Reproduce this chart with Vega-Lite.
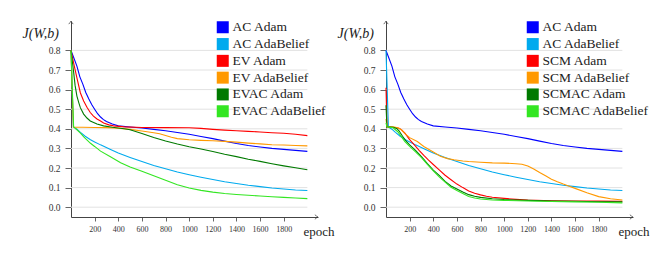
{
"$schema":"https://vega.github.io/schema/vega-lite/v6.json",
"padding":{"left":22,"top":19,"right":5,"bottom":5},
"config":{"font":"Liberation Serif, DejaVu Serif, serif","view":{"stroke":null},
"axis":{"labelFont":"Liberation Serif, DejaVu Serif, serif","titleFont":"Liberation Serif, DejaVu Serif, serif","domainColor":"#444","tickColor":"#666","labelColor":"#333","titleColor":"#222","titleFontWeight":"normal","grid":false,"labelOverlap":false},
"axisX":{"format":"d","labelOverlap":false,"tickSize":4,"labelFontSize":8,"labelPadding":4,"titleFontSize":13,"titleX":232,"titleY":18,"titleAlign":"left","titleBaseline":"alphabetic"},
"axisY":{"format":".1f","labelOverlap":false,"tickSize":6,"labelFontSize":9.5,"labelPadding":5,"titleAngle":0,"titleFontSize":14,"titleFontStyle":"italic","titleX":-49,"titleY":16,"titleAlign":"left","titleBaseline":"alphabetic"},
"legend":{"labelFont":"Liberation Serif, DejaVu Serif, serif"}},
"data":{"values":[
{"group":"AC","series":"AC Adam","epoch":0,"value":0.8},{"group":"AC","series":"AC Adam","epoch":25,"value":0.76},{"group":"AC","series":"AC Adam","epoch":50,"value":0.72},{"group":"AC","series":"AC Adam","epoch":75,"value":0.665},{"group":"AC","series":"AC Adam","epoch":100,"value":0.628},{"group":"AC","series":"AC Adam","epoch":125,"value":0.585},{"group":"AC","series":"AC Adam","epoch":150,"value":0.553},{"group":"AC","series":"AC Adam","epoch":175,"value":0.524},{"group":"AC","series":"AC Adam","epoch":200,"value":0.5},{"group":"AC","series":"AC Adam","epoch":225,"value":0.477},{"group":"AC","series":"AC Adam","epoch":250,"value":0.46},{"group":"AC","series":"AC Adam","epoch":275,"value":0.447},{"group":"AC","series":"AC Adam","epoch":300,"value":0.437},{"group":"AC","series":"AC Adam","epoch":350,"value":0.424},{"group":"AC","series":"AC Adam","epoch":400,"value":0.415},{"group":"AC","series":"AC Adam","epoch":500,"value":0.409},{"group":"AC","series":"AC Adam","epoch":600,"value":0.404},{"group":"AC","series":"AC Adam","epoch":700,"value":0.397},{"group":"AC","series":"AC Adam","epoch":800,"value":0.39},{"group":"AC","series":"AC Adam","epoch":900,"value":0.381},{"group":"AC","series":"AC Adam","epoch":1000,"value":0.372},{"group":"AC","series":"AC Adam","epoch":1100,"value":0.361},{"group":"AC","series":"AC Adam","epoch":1200,"value":0.35},{"group":"AC","series":"AC Adam","epoch":1300,"value":0.337},{"group":"AC","series":"AC Adam","epoch":1400,"value":0.325},{"group":"AC","series":"AC Adam","epoch":1500,"value":0.315},{"group":"AC","series":"AC Adam","epoch":1600,"value":0.307},{"group":"AC","series":"AC Adam","epoch":1700,"value":0.3},{"group":"AC","series":"AC Adam","epoch":1800,"value":0.295},{"group":"AC","series":"AC Adam","epoch":1900,"value":0.29},{"group":"AC","series":"AC Adam","epoch":2000,"value":0.285},
{"group":"AC","series":"AC AdaBelief","epoch":0,"value":0.8},{"group":"AC","series":"AC AdaBelief","epoch":20,"value":0.41},{"group":"AC","series":"AC AdaBelief","epoch":50,"value":0.398},{"group":"AC","series":"AC AdaBelief","epoch":80,"value":0.382},{"group":"AC","series":"AC AdaBelief","epoch":120,"value":0.362},{"group":"AC","series":"AC AdaBelief","epoch":165,"value":0.344},{"group":"AC","series":"AC AdaBelief","epoch":200,"value":0.333},{"group":"AC","series":"AC AdaBelief","epoch":250,"value":0.318},{"group":"AC","series":"AC AdaBelief","epoch":330,"value":0.296},{"group":"AC","series":"AC AdaBelief","epoch":400,"value":0.276},{"group":"AC","series":"AC AdaBelief","epoch":500,"value":0.254},{"group":"AC","series":"AC AdaBelief","epoch":600,"value":0.233},{"group":"AC","series":"AC AdaBelief","epoch":700,"value":0.213},{"group":"AC","series":"AC AdaBelief","epoch":800,"value":0.196},{"group":"AC","series":"AC AdaBelief","epoch":900,"value":0.18},{"group":"AC","series":"AC AdaBelief","epoch":1000,"value":0.166},{"group":"AC","series":"AC AdaBelief","epoch":1100,"value":0.153},{"group":"AC","series":"AC AdaBelief","epoch":1200,"value":0.141},{"group":"AC","series":"AC AdaBelief","epoch":1300,"value":0.13},{"group":"AC","series":"AC AdaBelief","epoch":1400,"value":0.121},{"group":"AC","series":"AC AdaBelief","epoch":1500,"value":0.112},{"group":"AC","series":"AC AdaBelief","epoch":1600,"value":0.105},{"group":"AC","series":"AC AdaBelief","epoch":1700,"value":0.098},{"group":"AC","series":"AC AdaBelief","epoch":1800,"value":0.093},{"group":"AC","series":"AC AdaBelief","epoch":1900,"value":0.088},{"group":"AC","series":"AC AdaBelief","epoch":2000,"value":0.085},
{"group":"EV","series":"EV Adam","epoch":0,"value":0.8},{"group":"EV","series":"EV Adam","epoch":14,"value":0.76},{"group":"EV","series":"EV Adam","epoch":28,"value":0.72},{"group":"EV","series":"EV Adam","epoch":50,"value":0.66},{"group":"EV","series":"EV Adam","epoch":79,"value":0.584},{"group":"EV","series":"EV Adam","epoch":107,"value":0.542},{"group":"EV","series":"EV Adam","epoch":135,"value":0.51},{"group":"EV","series":"EV Adam","epoch":163,"value":0.483},{"group":"EV","series":"EV Adam","epoch":190,"value":0.465},{"group":"EV","series":"EV Adam","epoch":220,"value":0.45},{"group":"EV","series":"EV Adam","epoch":250,"value":0.44},{"group":"EV","series":"EV Adam","epoch":276,"value":0.43},{"group":"EV","series":"EV Adam","epoch":320,"value":0.42},{"group":"EV","series":"EV Adam","epoch":360,"value":0.415},{"group":"EV","series":"EV Adam","epoch":450,"value":0.41},{"group":"EV","series":"EV Adam","epoch":600,"value":0.407},{"group":"EV","series":"EV Adam","epoch":800,"value":0.406},{"group":"EV","series":"EV Adam","epoch":1000,"value":0.405},{"group":"EV","series":"EV Adam","epoch":1100,"value":0.402},{"group":"EV","series":"EV Adam","epoch":1200,"value":0.397},{"group":"EV","series":"EV Adam","epoch":1300,"value":0.393},{"group":"EV","series":"EV Adam","epoch":1400,"value":0.39},{"group":"EV","series":"EV Adam","epoch":1500,"value":0.387},{"group":"EV","series":"EV Adam","epoch":1600,"value":0.384},{"group":"EV","series":"EV Adam","epoch":1700,"value":0.38},{"group":"EV","series":"EV Adam","epoch":1800,"value":0.377},{"group":"EV","series":"EV Adam","epoch":1900,"value":0.372},{"group":"EV","series":"EV Adam","epoch":2000,"value":0.365},
{"group":"EV","series":"EV AdaBelief","epoch":0,"value":0.8},{"group":"EV","series":"EV AdaBelief","epoch":20,"value":0.408},{"group":"EV","series":"EV AdaBelief","epoch":100,"value":0.408},{"group":"EV","series":"EV AdaBelief","epoch":200,"value":0.407},{"group":"EV","series":"EV AdaBelief","epoch":300,"value":0.406},{"group":"EV","series":"EV AdaBelief","epoch":400,"value":0.403},{"group":"EV","series":"EV AdaBelief","epoch":500,"value":0.397},{"group":"EV","series":"EV AdaBelief","epoch":600,"value":0.389},{"group":"EV","series":"EV AdaBelief","epoch":700,"value":0.38},{"group":"EV","series":"EV AdaBelief","epoch":750,"value":0.375},{"group":"EV","series":"EV AdaBelief","epoch":800,"value":0.366},{"group":"EV","series":"EV AdaBelief","epoch":850,"value":0.357},{"group":"EV","series":"EV AdaBelief","epoch":900,"value":0.35},{"group":"EV","series":"EV AdaBelief","epoch":1000,"value":0.344},{"group":"EV","series":"EV AdaBelief","epoch":1100,"value":0.341},{"group":"EV","series":"EV AdaBelief","epoch":1200,"value":0.339},{"group":"EV","series":"EV AdaBelief","epoch":1300,"value":0.336},{"group":"EV","series":"EV AdaBelief","epoch":1400,"value":0.332},{"group":"EV","series":"EV AdaBelief","epoch":1500,"value":0.327},{"group":"EV","series":"EV AdaBelief","epoch":1600,"value":0.323},{"group":"EV","series":"EV AdaBelief","epoch":1700,"value":0.319},{"group":"EV","series":"EV AdaBelief","epoch":1800,"value":0.317},{"group":"EV","series":"EV AdaBelief","epoch":1900,"value":0.315},{"group":"EV","series":"EV AdaBelief","epoch":2000,"value":0.313},
{"group":"EV","series":"EVAC Adam","epoch":0,"value":0.8},{"group":"EV","series":"EVAC Adam","epoch":23,"value":0.685},{"group":"EV","series":"EVAC Adam","epoch":35,"value":0.62},{"group":"EV","series":"EVAC Adam","epoch":50,"value":0.567},{"group":"EV","series":"EVAC Adam","epoch":65,"value":0.535},{"group":"EV","series":"EVAC Adam","epoch":79,"value":0.508},{"group":"EV","series":"EVAC Adam","epoch":107,"value":0.475},{"group":"EV","series":"EVAC Adam","epoch":135,"value":0.455},{"group":"EV","series":"EVAC Adam","epoch":163,"value":0.44},{"group":"EV","series":"EVAC Adam","epoch":220,"value":0.424},{"group":"EV","series":"EVAC Adam","epoch":276,"value":0.415},{"group":"EV","series":"EVAC Adam","epoch":350,"value":0.408},{"group":"EV","series":"EVAC Adam","epoch":450,"value":0.4},{"group":"EV","series":"EVAC Adam","epoch":500,"value":0.395},{"group":"EV","series":"EVAC Adam","epoch":600,"value":0.376},{"group":"EV","series":"EVAC Adam","epoch":700,"value":0.356},{"group":"EV","series":"EVAC Adam","epoch":800,"value":0.338},{"group":"EV","series":"EVAC Adam","epoch":900,"value":0.322},{"group":"EV","series":"EVAC Adam","epoch":1000,"value":0.308},{"group":"EV","series":"EVAC Adam","epoch":1100,"value":0.297},{"group":"EV","series":"EVAC Adam","epoch":1200,"value":0.284},{"group":"EV","series":"EVAC Adam","epoch":1300,"value":0.27},{"group":"EV","series":"EVAC Adam","epoch":1400,"value":0.258},{"group":"EV","series":"EVAC Adam","epoch":1500,"value":0.245},{"group":"EV","series":"EVAC Adam","epoch":1600,"value":0.234},{"group":"EV","series":"EVAC Adam","epoch":1700,"value":0.222},{"group":"EV","series":"EVAC Adam","epoch":1800,"value":0.211},{"group":"EV","series":"EVAC Adam","epoch":1900,"value":0.201},{"group":"EV","series":"EVAC Adam","epoch":2000,"value":0.191},
{"group":"EV","series":"EVAC AdaBelief","epoch":0,"value":0.8},{"group":"EV","series":"EVAC AdaBelief","epoch":22,"value":0.41},{"group":"EV","series":"EVAC AdaBelief","epoch":50,"value":0.395},{"group":"EV","series":"EVAC AdaBelief","epoch":80,"value":0.378},{"group":"EV","series":"EVAC AdaBelief","epoch":110,"value":0.358},{"group":"EV","series":"EVAC AdaBelief","epoch":165,"value":0.326},{"group":"EV","series":"EVAC AdaBelief","epoch":200,"value":0.31},{"group":"EV","series":"EVAC AdaBelief","epoch":250,"value":0.286},{"group":"EV","series":"EVAC AdaBelief","epoch":330,"value":0.259},{"group":"EV","series":"EVAC AdaBelief","epoch":420,"value":0.227},{"group":"EV","series":"EVAC AdaBelief","epoch":500,"value":0.205},{"group":"EV","series":"EVAC AdaBelief","epoch":600,"value":0.183},{"group":"EV","series":"EVAC AdaBelief","epoch":700,"value":0.16},{"group":"EV","series":"EVAC AdaBelief","epoch":800,"value":0.137},{"group":"EV","series":"EVAC AdaBelief","epoch":900,"value":0.115},{"group":"EV","series":"EVAC AdaBelief","epoch":1000,"value":0.098},{"group":"EV","series":"EVAC AdaBelief","epoch":1100,"value":0.086},{"group":"EV","series":"EVAC AdaBelief","epoch":1200,"value":0.077},{"group":"EV","series":"EVAC AdaBelief","epoch":1300,"value":0.07},{"group":"EV","series":"EVAC AdaBelief","epoch":1400,"value":0.065},{"group":"EV","series":"EVAC AdaBelief","epoch":1500,"value":0.061},{"group":"EV","series":"EVAC AdaBelief","epoch":1600,"value":0.057},{"group":"EV","series":"EVAC AdaBelief","epoch":1700,"value":0.053},{"group":"EV","series":"EVAC AdaBelief","epoch":1800,"value":0.05},{"group":"EV","series":"EVAC AdaBelief","epoch":1900,"value":0.047},{"group":"EV","series":"EVAC AdaBelief","epoch":2000,"value":0.044},
{"group":"SCM","series":"SCM Adam","epoch":0,"value":0.61},{"group":"SCM","series":"SCM Adam","epoch":8,"value":0.41},{"group":"SCM","series":"SCM Adam","epoch":60,"value":0.408},{"group":"SCM","series":"SCM Adam","epoch":110,"value":0.403},{"group":"SCM","series":"SCM Adam","epoch":130,"value":0.396},{"group":"SCM","series":"SCM Adam","epoch":160,"value":0.378},{"group":"SCM","series":"SCM Adam","epoch":200,"value":0.345},{"group":"SCM","series":"SCM Adam","epoch":240,"value":0.318},{"group":"SCM","series":"SCM Adam","epoch":280,"value":0.29},{"group":"SCM","series":"SCM Adam","epoch":320,"value":0.264},{"group":"SCM","series":"SCM Adam","epoch":360,"value":0.24},{"group":"SCM","series":"SCM Adam","epoch":400,"value":0.218},{"group":"SCM","series":"SCM Adam","epoch":450,"value":0.19},{"group":"SCM","series":"SCM Adam","epoch":500,"value":0.163},{"group":"SCM","series":"SCM Adam","epoch":550,"value":0.14},{"group":"SCM","series":"SCM Adam","epoch":600,"value":0.118},{"group":"SCM","series":"SCM Adam","epoch":650,"value":0.1},{"group":"SCM","series":"SCM Adam","epoch":700,"value":0.083},{"group":"SCM","series":"SCM Adam","epoch":750,"value":0.071},{"group":"SCM","series":"SCM Adam","epoch":800,"value":0.063},{"group":"SCM","series":"SCM Adam","epoch":850,"value":0.056},{"group":"SCM","series":"SCM Adam","epoch":900,"value":0.051},{"group":"SCM","series":"SCM Adam","epoch":1000,"value":0.045},{"group":"SCM","series":"SCM Adam","epoch":1100,"value":0.04},{"group":"SCM","series":"SCM Adam","epoch":1200,"value":0.036},{"group":"SCM","series":"SCM Adam","epoch":1400,"value":0.033},{"group":"SCM","series":"SCM Adam","epoch":1600,"value":0.032},{"group":"SCM","series":"SCM Adam","epoch":1800,"value":0.031},{"group":"SCM","series":"SCM Adam","epoch":2000,"value":0.03},
{"group":"SCM","series":"SCM AdaBelief","epoch":0,"value":0.45},{"group":"SCM","series":"SCM AdaBelief","epoch":8,"value":0.41},{"group":"SCM","series":"SCM AdaBelief","epoch":60,"value":0.41},{"group":"SCM","series":"SCM AdaBelief","epoch":100,"value":0.405},{"group":"SCM","series":"SCM AdaBelief","epoch":130,"value":0.395},{"group":"SCM","series":"SCM AdaBelief","epoch":160,"value":0.375},{"group":"SCM","series":"SCM AdaBelief","epoch":200,"value":0.355},{"group":"SCM","series":"SCM AdaBelief","epoch":265,"value":0.335},{"group":"SCM","series":"SCM AdaBelief","epoch":320,"value":0.31},{"group":"SCM","series":"SCM AdaBelief","epoch":400,"value":0.282},{"group":"SCM","series":"SCM AdaBelief","epoch":460,"value":0.26},{"group":"SCM","series":"SCM AdaBelief","epoch":520,"value":0.248},{"group":"SCM","series":"SCM AdaBelief","epoch":575,"value":0.242},{"group":"SCM","series":"SCM AdaBelief","epoch":650,"value":0.236},{"group":"SCM","series":"SCM AdaBelief","epoch":700,"value":0.233},{"group":"SCM","series":"SCM AdaBelief","epoch":800,"value":0.229},{"group":"SCM","series":"SCM AdaBelief","epoch":900,"value":0.226},{"group":"SCM","series":"SCM AdaBelief","epoch":1000,"value":0.225},{"group":"SCM","series":"SCM AdaBelief","epoch":1100,"value":0.222},{"group":"SCM","series":"SCM AdaBelief","epoch":1150,"value":0.219},{"group":"SCM","series":"SCM AdaBelief","epoch":1200,"value":0.21},{"group":"SCM","series":"SCM AdaBelief","epoch":1250,"value":0.195},{"group":"SCM","series":"SCM AdaBelief","epoch":1300,"value":0.177},{"group":"SCM","series":"SCM AdaBelief","epoch":1350,"value":0.16},{"group":"SCM","series":"SCM AdaBelief","epoch":1400,"value":0.143},{"group":"SCM","series":"SCM AdaBelief","epoch":1450,"value":0.13},{"group":"SCM","series":"SCM AdaBelief","epoch":1500,"value":0.118},{"group":"SCM","series":"SCM AdaBelief","epoch":1550,"value":0.107},{"group":"SCM","series":"SCM AdaBelief","epoch":1600,"value":0.096},{"group":"SCM","series":"SCM AdaBelief","epoch":1700,"value":0.074},{"group":"SCM","series":"SCM AdaBelief","epoch":1800,"value":0.054},{"group":"SCM","series":"SCM AdaBelief","epoch":1900,"value":0.043},{"group":"SCM","series":"SCM AdaBelief","epoch":2000,"value":0.037},
{"group":"SCM","series":"SCMAC Adam","epoch":0,"value":0.52},{"group":"SCM","series":"SCMAC Adam","epoch":8,"value":0.41},{"group":"SCM","series":"SCMAC Adam","epoch":60,"value":0.408},{"group":"SCM","series":"SCMAC Adam","epoch":90,"value":0.402},{"group":"SCM","series":"SCMAC Adam","epoch":110,"value":0.39},{"group":"SCM","series":"SCMAC Adam","epoch":140,"value":0.362},{"group":"SCM","series":"SCMAC Adam","epoch":170,"value":0.337},{"group":"SCM","series":"SCMAC Adam","epoch":200,"value":0.318},{"group":"SCM","series":"SCMAC Adam","epoch":250,"value":0.29},{"group":"SCM","series":"SCMAC Adam","epoch":300,"value":0.258},{"group":"SCM","series":"SCMAC Adam","epoch":350,"value":0.222},{"group":"SCM","series":"SCMAC Adam","epoch":400,"value":0.189},{"group":"SCM","series":"SCMAC Adam","epoch":450,"value":0.162},{"group":"SCM","series":"SCMAC Adam","epoch":500,"value":0.132},{"group":"SCM","series":"SCMAC Adam","epoch":550,"value":0.108},{"group":"SCM","series":"SCMAC Adam","epoch":600,"value":0.093},{"group":"SCM","series":"SCMAC Adam","epoch":650,"value":0.078},{"group":"SCM","series":"SCMAC Adam","epoch":700,"value":0.064},{"group":"SCM","series":"SCMAC Adam","epoch":750,"value":0.056},{"group":"SCM","series":"SCMAC Adam","epoch":800,"value":0.05},{"group":"SCM","series":"SCMAC Adam","epoch":900,"value":0.043},{"group":"SCM","series":"SCMAC Adam","epoch":1000,"value":0.039},{"group":"SCM","series":"SCMAC Adam","epoch":1200,"value":0.035},{"group":"SCM","series":"SCMAC Adam","epoch":1400,"value":0.032},{"group":"SCM","series":"SCMAC Adam","epoch":1600,"value":0.03},{"group":"SCM","series":"SCMAC Adam","epoch":1800,"value":0.028},{"group":"SCM","series":"SCMAC Adam","epoch":2000,"value":0.027},
{"group":"SCM","series":"SCMAC AdaBelief","epoch":0,"value":0.43},{"group":"SCM","series":"SCMAC AdaBelief","epoch":8,"value":0.41},{"group":"SCM","series":"SCMAC AdaBelief","epoch":60,"value":0.405},{"group":"SCM","series":"SCMAC AdaBelief","epoch":100,"value":0.385},{"group":"SCM","series":"SCMAC AdaBelief","epoch":130,"value":0.36},{"group":"SCM","series":"SCMAC AdaBelief","epoch":160,"value":0.335},{"group":"SCM","series":"SCMAC AdaBelief","epoch":200,"value":0.31},{"group":"SCM","series":"SCMAC AdaBelief","epoch":250,"value":0.282},{"group":"SCM","series":"SCMAC AdaBelief","epoch":300,"value":0.253},{"group":"SCM","series":"SCMAC AdaBelief","epoch":350,"value":0.219},{"group":"SCM","series":"SCMAC AdaBelief","epoch":400,"value":0.185},{"group":"SCM","series":"SCMAC AdaBelief","epoch":450,"value":0.155},{"group":"SCM","series":"SCMAC AdaBelief","epoch":500,"value":0.128},{"group":"SCM","series":"SCMAC AdaBelief","epoch":550,"value":0.102},{"group":"SCM","series":"SCMAC AdaBelief","epoch":600,"value":0.085},{"group":"SCM","series":"SCMAC AdaBelief","epoch":650,"value":0.07},{"group":"SCM","series":"SCMAC AdaBelief","epoch":700,"value":0.055},{"group":"SCM","series":"SCMAC AdaBelief","epoch":750,"value":0.047},{"group":"SCM","series":"SCMAC AdaBelief","epoch":800,"value":0.042},{"group":"SCM","series":"SCMAC AdaBelief","epoch":900,"value":0.037},{"group":"SCM","series":"SCMAC AdaBelief","epoch":1000,"value":0.035},{"group":"SCM","series":"SCMAC AdaBelief","epoch":1200,"value":0.032},{"group":"SCM","series":"SCMAC AdaBelief","epoch":1400,"value":0.029},{"group":"SCM","series":"SCMAC AdaBelief","epoch":1600,"value":0.027},{"group":"SCM","series":"SCMAC AdaBelief","epoch":1800,"value":0.025},{"group":"SCM","series":"SCMAC AdaBelief","epoch":2000,"value":0.022}
]},
"spacing":68,
"bounds":"flush",
"resolve":{"scale":{"color":"independent"}},
"hconcat":[
{"width":247,"height":196,
"layer":[
{"data":{"values":[{"g":0},{"g":0.1},{"g":0.2},{"g":0.3},{"g":0.4},{"g":0.5},{"g":0.6},{"g":0.7},{"g":0.8}]},
"mark":{"type":"rule","color":"#e2e2e2","strokeWidth":1},
"encoding":{"y":{"field":"g","type":"quantitative","title":"J(W,b)","scale":{"domain":[-0.05,0.95],"nice":false,"zero":false},"axis":{"labelOverlap":false,"values":[0,0.1,0.2,0.3,0.4,0.5,0.6,0.7,0.8]}},"x":{"datum":0,"type":"quantitative","title":"epoch","axis":{"labelOverlap":false,"values":[200,400,600,800,1000,1200,1400,1600,1800]}},"x2":{"datum":2000}}},
{"transform":[{"filter":"datum.group !== 'SCM'"}],
"mark":{"type":"line","strokeWidth":1.1},
"encoding":{
"x":{"field":"epoch","type":"quantitative","title":"epoch","scale":{"domain":[0,2090],"nice":false,"zero":false},"axis":{"labelOverlap":false,"values":[200,400,600,800,1000,1200,1400,1600,1800]}},
"y":{"field":"value","type":"quantitative","title":"J(W,b)","scale":{"domain":[-0.05,0.95],"nice":false,"zero":false},"axis":{"labelOverlap":false,"values":[0,0.1,0.2,0.3,0.4,0.5,0.6,0.7,0.8]}},
"color":{"field":"series","type":"nominal",
"scale":{"domain":["AC Adam","AC AdaBelief","EV Adam","EV AdaBelief","EVAC Adam","EVAC AdaBelief"],"range":["#0000ff","#00aaee","#ff0000","#ff9900","#007a00","#33e622"]},
"legend":{"orient":"none","legendX":145,"legendY":-0.5,"title":null,"symbolType":"square","symbolSize":144,"symbolStrokeWidth":0,"labelFontSize":13.5,"labelColor":"#222","labelOffset":3,"rowPadding":1.8,"padding":0,
"encode":{"symbols":{"update":{"fill":{"scale":"concat_0_color","field":"value"},"strokeWidth":{"value":0}}}}}}}},
{"data":{"values":[{}]},"mark":{"type":"point","shape":"M -1.4 -1 Q -0.6 -0.3 0 0 Q -0.6 0.3 -1.4 1","filled":false,"stroke":"#333","strokeWidth":1,"size":20},
"encoding":{"x":{"datum":2090,"type":"quantitative","title":"epoch","axis":{"labelOverlap":false,"values":[200,400,600,800,1000,1200,1400,1600,1800]}},"y":{"datum":-0.05,"type":"quantitative","title":"J(W,b)","axis":{"labelOverlap":false,"values":[0,0.1,0.2,0.3,0.4,0.5,0.6,0.7,0.8]}}}},
{"data":{"values":[{}]},"mark":{"type":"point","shape":"M -1 1.4 Q -0.3 0.6 0 0 Q 0.3 0.6 1 1.4","filled":false,"stroke":"#333","strokeWidth":1,"size":20},
"encoding":{"x":{"datum":0,"type":"quantitative","title":"epoch","axis":{"labelOverlap":false,"values":[200,400,600,800,1000,1200,1400,1600,1800]}},"y":{"datum":0.95,"type":"quantitative","title":"J(W,b)","axis":{"labelOverlap":false,"values":[0,0.1,0.2,0.3,0.4,0.5,0.6,0.7,0.8]}}}}
]},
{"width":247,"height":196,
"layer":[
{"data":{"values":[{"g":0},{"g":0.1},{"g":0.2},{"g":0.3},{"g":0.4},{"g":0.5},{"g":0.6},{"g":0.7},{"g":0.8}]},
"mark":{"type":"rule","color":"#e2e2e2","strokeWidth":1},
"encoding":{"y":{"field":"g","type":"quantitative","title":"J(W,b)","scale":{"domain":[-0.05,0.95],"nice":false,"zero":false},"axis":{"labelOverlap":false,"values":[0,0.1,0.2,0.3,0.4,0.5,0.6,0.7,0.8]}},"x":{"datum":0,"type":"quantitative","title":"epoch","axis":{"labelOverlap":false,"values":[200,400,600,800,1000,1200,1400,1600,1800]}},"x2":{"datum":2000}}},
{"transform":[{"filter":"datum.group !== 'EV'"}],
"mark":{"type":"line","strokeWidth":1.1},
"encoding":{
"x":{"field":"epoch","type":"quantitative","title":"epoch","scale":{"domain":[0,2090],"nice":false,"zero":false},"axis":{"labelOverlap":false,"values":[200,400,600,800,1000,1200,1400,1600,1800]}},
"y":{"field":"value","type":"quantitative","title":"J(W,b)","scale":{"domain":[-0.05,0.95],"nice":false,"zero":false},"axis":{"labelOverlap":false,"values":[0,0.1,0.2,0.3,0.4,0.5,0.6,0.7,0.8]}},
"color":{"field":"series","type":"nominal",
"scale":{"domain":["AC Adam","AC AdaBelief","SCM Adam","SCM AdaBelief","SCMAC Adam","SCMAC AdaBelief"],"range":["#0000ff","#00aaee","#ff0000","#ff9900","#007a00","#33e622"]},
"legend":{"orient":"none","legendX":140,"legendY":-0.5,"title":null,"symbolType":"square","symbolSize":144,"symbolStrokeWidth":0,"labelFontSize":13.5,"labelColor":"#222","labelOffset":3,"rowPadding":1.8,"padding":0,
"encode":{"symbols":{"update":{"fill":{"scale":"concat_1_color","field":"value"},"strokeWidth":{"value":0}}}}}}}},
{"data":{"values":[{}]},"mark":{"type":"point","shape":"M -1.4 -1 Q -0.6 -0.3 0 0 Q -0.6 0.3 -1.4 1","filled":false,"stroke":"#333","strokeWidth":1,"size":20},
"encoding":{"x":{"datum":2090,"type":"quantitative","title":"epoch","axis":{"labelOverlap":false,"values":[200,400,600,800,1000,1200,1400,1600,1800]}},"y":{"datum":-0.05,"type":"quantitative","title":"J(W,b)","axis":{"labelOverlap":false,"values":[0,0.1,0.2,0.3,0.4,0.5,0.6,0.7,0.8]}}}},
{"data":{"values":[{}]},"mark":{"type":"point","shape":"M -1 1.4 Q -0.3 0.6 0 0 Q 0.3 0.6 1 1.4","filled":false,"stroke":"#333","strokeWidth":1,"size":20},
"encoding":{"x":{"datum":0,"type":"quantitative","title":"epoch","axis":{"labelOverlap":false,"values":[200,400,600,800,1000,1200,1400,1600,1800]}},"y":{"datum":0.95,"type":"quantitative","title":"J(W,b)","axis":{"labelOverlap":false,"values":[0,0.1,0.2,0.3,0.4,0.5,0.6,0.7,0.8]}}}}
]}
]
}
